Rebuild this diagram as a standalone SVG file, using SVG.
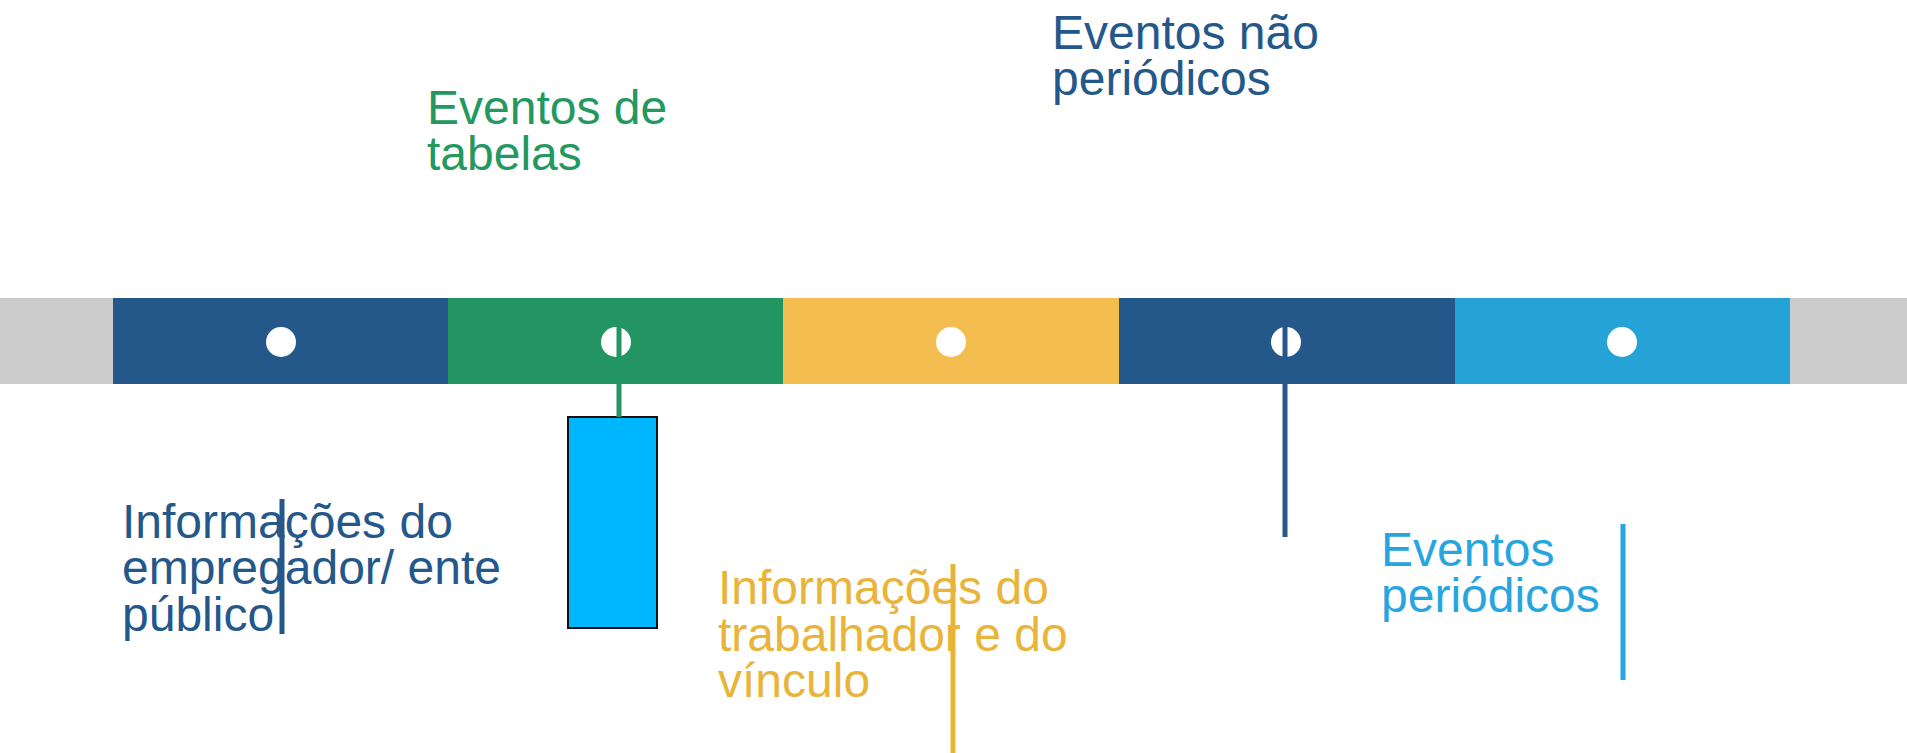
<svg xmlns="http://www.w3.org/2000/svg" width="1907" height="753" viewBox="0 0 1907 753">
<style>
  .lbl { font-family: "Liberation Sans", Arial, sans-serif; font-size: 48px; }
  .dot { fill: #ffffff; }
  .ln { stroke-width: 5; fill: none; }
</style>
<rect x="0" y="0" width="1907" height="753" fill="#ffffff"/>
<g id="track">
  <rect x="0" y="298" width="1907" height="86" fill="#cccccc"/>
</g>
<g id="seg1"><rect x="113" y="298" width="335" height="86" fill="#24588A"/><circle class="dot" cx="281" cy="342" r="15"/></g>
<g id="seg2"><rect x="448" y="298" width="335" height="86" fill="#229562"/><circle class="dot" cx="616" cy="342" r="15"/></g>
<g id="seg3"><rect x="783" y="298" width="336" height="86" fill="#F4BD4F"/><circle class="dot" cx="951" cy="342" r="15"/></g>
<g id="seg4"><rect x="1119" y="298" width="336" height="86" fill="#24588A"/><circle class="dot" cx="1286" cy="342" r="15"/></g>
<g id="seg5"><rect x="1455" y="298" width="335" height="86" fill="#25A3D6"/><circle class="dot" cx="1622" cy="342" r="15"/></g>

<g id="box"><rect x="568" y="417" width="89" height="211" fill="#00B7FF" stroke="#111111" stroke-width="2"/></g>

<g id="connectors">
  <line class="ln" x1="619" y1="316" x2="619" y2="417" stroke="#229562" stroke-width="4"/>
  <line class="ln" x1="1285" y1="311" x2="1285" y2="537" stroke="#24588A"/>
  <line class="ln" x1="282" y1="499" x2="282" y2="634" stroke="#24588A"/>
  <line class="ln" x1="953" y1="564" x2="953" y2="753" stroke="#E8B532" stroke-width="6"/>
  <line class="ln" x1="1623" y1="524" x2="1623" y2="680" stroke="#27A5DF"/>
</g>

<g id="label-nao-periodicos">
  <text class="lbl" fill="#24588A" x="1052" y="49">Eventos não<tspan x="1052" y="95">periódicos</tspan></text>
</g>
<g id="label-tabelas">
  <text class="lbl" fill="#23985F" x="427" y="124">Eventos de<tspan x="427" y="170">tabelas</tspan></text>
</g>
<g id="label-empregador">
  <text class="lbl" fill="#24588A" x="122" y="538">Informações do<tspan x="122" y="584">empregador/ ente</tspan><tspan x="122" y="631">público</tspan></text>
</g>
<g id="label-trabalhador">
  <text class="lbl" fill="#E9B43A" x="718" y="604">Informações do<tspan x="718" y="651">trabalhador e do</tspan><tspan x="718" y="697">vínculo</tspan></text>
</g>
<g id="label-periodicos">
  <text class="lbl" fill="#27A5DF" x="1381" y="566">Eventos<tspan x="1381" y="612">periódicos</tspan></text>
</g>
</svg>
